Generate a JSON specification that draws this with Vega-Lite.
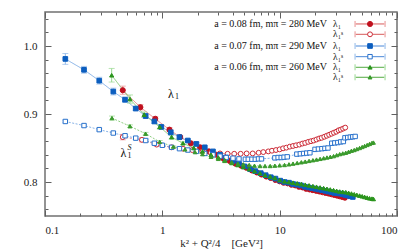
{
"$schema": "https://vega.github.io/schema/vega-lite/v6.json",
"width": 352, "height": 204,
"autosize": {"type": "none"},
"padding": {"left": 45, "top": 12, "right": 18, "bottom": 36},
"config": {
  "view": {"stroke": "#707070", "strokeWidth": 1.5},
  "font": "Liberation Serif",
  "text": {"font": "Liberation Serif"},
  "legend": {"disable": true},
  "axis": {"grid": false, "domain": false, "tickColor": "#606060", "tickWidth": 1, "labelFont": "Liberation Serif", "labelFontSize": 11, "labelColor": "#222", "titleFont": "Liberation Serif", "titleFontSize": 11, "titleFontWeight": "normal", "titleColor": "#222"}
},
"datasets": {
 "pts": [
  {"s":"r1","x":0.46,"y":0.935,"e":0.006},{"s":"r1","x":0.65,"y":0.910,"e":0.004},{"s":"r1","x":0.87,"y":0.893,"e":0.003},{"s":"r1","x":1.15,"y":0.877,"e":0.003},{"s":"r1","x":1.42,"y":0.866,"e":0.002},{"s":"r1","x":1.75,"y":0.857,"e":0.002},{"s":"r1","x":2.1,"y":0.851,"e":0.001},
  {"s":"r1","x":2.5,"y":0.845,"e":0},{"s":"r1","x":2.9,"y":0.840,"e":0},{"s":"r1","x":3.3,"y":0.835,"e":0},{"s":"r1","x":3.75,"y":0.831,"e":0},{"s":"r1","x":4.2,"y":0.827,"e":0},{"s":"r1","x":4.7,"y":0.824,"e":0},{"s":"r1","x":5.2,"y":0.821,"e":0},{"s":"r1","x":5.8,"y":0.817,"e":0},{"s":"r1","x":6.4,"y":0.814,"e":0},{"s":"r1","x":7.0,"y":0.811,"e":0},{"s":"r1","x":7.7,"y":0.808,"e":0},{"s":"r1","x":8.4,"y":0.806,"e":0},{"s":"r1","x":9.2,"y":0.803,"e":0},{"s":"r1","x":10,"y":0.801,"e":0},{"s":"r1","x":10.8,"y":0.799,"e":0},{"s":"r1","x":11.7,"y":0.798,"e":0},{"s":"r1","x":12.6,"y":0.796,"e":0},{"s":"r1","x":13.6,"y":0.795,"e":0},{"s":"r1","x":14.6,"y":0.793,"e":0},{"s":"r1","x":15.7,"y":0.792,"e":0},{"s":"r1","x":16.8,"y":0.790,"e":0},{"s":"r1","x":18,"y":0.789,"e":0},{"s":"r1","x":19.2,"y":0.788,"e":0},{"s":"r1","x":20.5,"y":0.787,"e":0},{"s":"r1","x":21.8,"y":0.786,"e":0},{"s":"r1","x":23.2,"y":0.785,"e":0},{"s":"r1","x":24.6,"y":0.784,"e":0},{"s":"r1","x":26.1,"y":0.783,"e":0},{"s":"r1","x":27.6,"y":0.782,"e":0},{"s":"r1","x":29.2,"y":0.781,"e":0},{"s":"r1","x":30.8,"y":0.780,"e":0},{"s":"r1","x":32.5,"y":0.779,"e":0},{"s":"r1","x":34.2,"y":0.778,"e":0},{"s":"r1","x":36,"y":0.777,"e":0},

  {"s":"rS","x":0.46,"y":0.866,"e":0.004},{"s":"rS","x":0.67,"y":0.862,"e":0.003},{"s":"rS","x":0.895,"y":0.855,"e":0.002},{"s":"rS","x":1.2,"y":0.851,"e":0.002},{"s":"rS","x":1.5,"y":0.849,"e":0.001},{"s":"rS","x":1.8,"y":0.847,"e":0},{"s":"rS","x":2.2,"y":0.845,"e":0},{"s":"rS","x":2.6,"y":0.843,"e":0},{"s":"rS","x":3.1,"y":0.842,"e":0},{"s":"rS","x":3.6,"y":0.8415,"e":0},{"s":"rS","x":4.1,"y":0.8415,"e":0},{"s":"rS","x":4.65,"y":0.8415,"e":0},{"s":"rS","x":5.23,"y":0.842,"e":0},{"s":"rS","x":5.89,"y":0.842,"e":0},{"s":"rS","x":6.62,"y":0.843,"e":0},{"s":"rS","x":7.25,"y":0.844,"e":0},{"s":"rS","x":8.0,"y":0.845,"e":0},{"s":"rS","x":8.6,"y":0.846,"e":0},{"s":"rS","x":9.3,"y":0.847,"e":0},{"s":"rS","x":10,"y":0.848,"e":0},{"s":"rS","x":10.7,"y":0.8495,"e":0},{"s":"rS","x":11.4,"y":0.8505,"e":0},{"s":"rS","x":12.2,"y":0.852,"e":0},{"s":"rS","x":13,"y":0.853,"e":0},{"s":"rS","x":13.8,"y":0.854,"e":0},{"s":"rS","x":14.7,"y":0.855,"e":0},{"s":"rS","x":15.6,"y":0.8565,"e":0},{"s":"rS","x":16.5,"y":0.8575,"e":0},{"s":"rS","x":17.5,"y":0.859,"e":0},{"s":"rS","x":18.5,"y":0.860,"e":0},{"s":"rS","x":19.5,"y":0.861,"e":0},{"s":"rS","x":20.6,"y":0.8625,"e":0},{"s":"rS","x":21.7,"y":0.864,"e":0},{"s":"rS","x":22.8,"y":0.865,"e":0},{"s":"rS","x":24,"y":0.8665,"e":0},{"s":"rS","x":25.2,"y":0.868,"e":0},{"s":"rS","x":26.4,"y":0.8695,"e":0},{"s":"rS","x":27.7,"y":0.871,"e":0},{"s":"rS","x":29,"y":0.8725,"e":0},{"s":"rS","x":30.4,"y":0.874,"e":0},{"s":"rS","x":31.8,"y":0.876,"e":0},{"s":"rS","x":33.2,"y":0.877,"e":0},{"s":"rS","x":34.7,"y":0.8785,"e":0},{"s":"rS","x":36.2,"y":0.880,"e":0},

  {"s":"b1","x":0.149,"y":0.981,"e":0.008},{"s":"b1","x":0.215,"y":0.965,"e":0.005},{"s":"b1","x":0.29,"y":0.949,"e":0.005},{"s":"b1","x":0.382,"y":0.933,"e":0.005},{"s":"b1","x":0.481,"y":0.921,"e":0.004},{"s":"b1","x":0.593,"y":0.908,"e":0.003},{"s":"b1","x":0.721,"y":0.897,"e":0.003},{"s":"b1","x":0.855,"y":0.889,"e":0.003},{"s":"b1","x":0.98,"y":0.881,"e":0.002},{"s":"b1","x":1.18,"y":0.873,"e":0.004},{"s":"b1","x":1.4,"y":0.866,"e":0.002},{"s":"b1","x":1.65,"y":0.861,"e":0.002},{"s":"b1","x":1.95,"y":0.856,"e":0.002},
  {"s":"b1","x":2.3,"y":0.851,"e":0},{"s":"b1","x":2.7,"y":0.845,"e":0},{"s":"b1","x":3.1,"y":0.840,"e":0},{"s":"b1","x":3.5,"y":0.836,"e":0},{"s":"b1","x":4.0,"y":0.831,"e":0},{"s":"b1","x":4.5,"y":0.827,"e":0},{"s":"b1","x":5.0,"y":0.823,"e":0},{"s":"b1","x":5.6,"y":0.819,"e":0},{"s":"b1","x":6.2,"y":0.816,"e":0},{"s":"b1","x":6.9,"y":0.813,"e":0},{"s":"b1","x":7.6,"y":0.810,"e":0},{"s":"b1","x":8.4,"y":0.807,"e":0},{"s":"b1","x":9.2,"y":0.805,"e":0},{"s":"b1","x":10.1,"y":0.802,"e":0},{"s":"b1","x":11,"y":0.800,"e":0},{"s":"b1","x":12,"y":0.799,"e":0},{"s":"b1","x":13,"y":0.797,"e":0},{"s":"b1","x":14.1,"y":0.796,"e":0},{"s":"b1","x":15.2,"y":0.795,"e":0},{"s":"b1","x":16.4,"y":0.793,"e":0},{"s":"b1","x":17.6,"y":0.792,"e":0},{"s":"b1","x":18.9,"y":0.791,"e":0},{"s":"b1","x":20.2,"y":0.790,"e":0},{"s":"b1","x":21.6,"y":0.789,"e":0},{"s":"b1","x":23,"y":0.788,"e":0},{"s":"b1","x":24.5,"y":0.787,"e":0},{"s":"b1","x":26,"y":0.786,"e":0},{"s":"b1","x":27.6,"y":0.785,"e":0},{"s":"b1","x":29.2,"y":0.784,"e":0},{"s":"b1","x":30.9,"y":0.7835,"e":0},{"s":"b1","x":32.6,"y":0.783,"e":0},{"s":"b1","x":34.4,"y":0.782,"e":0},{"s":"b1","x":36.2,"y":0.781,"e":0},{"s":"b1","x":38.1,"y":0.780,"e":0},{"s":"b1","x":40,"y":0.779,"e":0},{"s":"b1","x":42,"y":0.778,"e":0},

  {"s":"bS","x":0.149,"y":0.889,"e":0.002},{"s":"bS","x":0.215,"y":0.883,"e":0.002},{"s":"bS","x":0.29,"y":0.877,"e":0.002},{"s":"bS","x":0.382,"y":0.872,"e":0.002},{"s":"bS","x":0.481,"y":0.868,"e":0.002},{"s":"bS","x":0.593,"y":0.8645,"e":0.002},{"s":"bS","x":0.721,"y":0.861,"e":0.002},{"s":"bS","x":0.855,"y":0.857,"e":0.002},{"s":"bS","x":1.0,"y":0.854,"e":0.001},{"s":"bS","x":1.2,"y":0.851,"e":0.001},{"s":"bS","x":1.4,"y":0.849,"e":0},{"s":"bS","x":1.65,"y":0.847,"e":0},{"s":"bS","x":1.95,"y":0.845,"e":0},{"s":"bS","x":2.3,"y":0.842,"e":0},{"s":"bS","x":2.7,"y":0.840,"e":0},{"s":"bS","x":3.1,"y":0.838,"e":0},{"s":"bS","x":3.5,"y":0.836,"e":0},{"s":"bS","x":4.0,"y":0.835,"e":0},{"s":"bS","x":4.5,"y":0.834,"e":0},
  {"s":"bS","x":5.1,"y":0.8335,"e":0},{"s":"bS","x":5.4,"y":0.8335,"e":0},{"s":"bS","x":5.8,"y":0.8335,"e":0},{"s":"bS","x":6.2,"y":0.8335,"e":0},{"s":"bS","x":6.6,"y":0.834,"e":0},{"s":"bS","x":7.0,"y":0.834,"e":0},
  {"s":"bS","x":9.1,"y":0.8355,"e":0},{"s":"bS","x":9.7,"y":0.836,"e":0},{"s":"bS","x":10.3,"y":0.836,"e":0},{"s":"bS","x":10.9,"y":0.8365,"e":0},{"s":"bS","x":11.6,"y":0.837,"e":0},
  {"s":"bS","x":14.0,"y":0.841,"e":0},{"s":"bS","x":15.0,"y":0.8415,"e":0},{"s":"bS","x":16.0,"y":0.842,"e":0},{"s":"bS","x":17.0,"y":0.8425,"e":0},{"s":"bS","x":18.1,"y":0.843,"e":0},
  {"s":"bS","x":20.0,"y":0.848,"e":0},{"s":"bS","x":21.4,"y":0.8485,"e":0},{"s":"bS","x":22.9,"y":0.849,"e":0},{"s":"bS","x":24.3,"y":0.8495,"e":0},{"s":"bS","x":25.8,"y":0.850,"e":0},
  {"s":"bS","x":27.8,"y":0.857,"e":0},{"s":"bS","x":29.5,"y":0.8575,"e":0},{"s":"bS","x":31.3,"y":0.858,"e":0},{"s":"bS","x":33.1,"y":0.859,"e":0},{"s":"bS","x":34.9,"y":0.8595,"e":0},
  {"s":"bS","x":36,"y":0.865,"e":0},{"s":"bS","x":38,"y":0.8655,"e":0},{"s":"bS","x":40,"y":0.866,"e":0},{"s":"bS","x":42,"y":0.8665,"e":0},{"s":"bS","x":44,"y":0.867,"e":0},

  {"s":"g1","x":0.37,"y":0.957,"e":0.01},{"s":"g1","x":0.53,"y":0.922,"e":0.006},{"s":"g1","x":0.70,"y":0.899,"e":0.004},{"s":"g1","x":0.95,"y":0.881,"e":0.003},{"s":"g1","x":1.2,"y":0.866,"e":0.003},{"s":"g1","x":1.5,"y":0.857,"e":0.002},{"s":"g1","x":1.85,"y":0.850,"e":0.002},
  {"s":"g1","x":2.2,"y":0.845,"e":0},{"s":"g1","x":2.6,"y":0.840,"e":0},{"s":"g1","x":3.0,"y":0.836,"e":0},{"s":"g1","x":3.4,"y":0.832,"e":0},{"s":"g1","x":3.9,"y":0.828,"e":0},{"s":"g1","x":4.4,"y":0.825,"e":0},{"s":"g1","x":4.9,"y":0.822,"e":0},{"s":"g1","x":5.5,"y":0.819,"e":0},{"s":"g1","x":6.1,"y":0.816,"e":0},{"s":"g1","x":6.8,"y":0.813,"e":0},{"s":"g1","x":7.5,"y":0.810,"e":0},{"s":"g1","x":8.3,"y":0.808,"e":0},{"s":"g1","x":9.1,"y":0.806,"e":0},{"s":"g1","x":10,"y":0.803,"e":0},{"s":"g1","x":11,"y":0.801,"e":0},{"s":"g1","x":12,"y":0.800,"e":0},{"s":"g1","x":13,"y":0.799,"e":0},{"s":"g1","x":14.1,"y":0.798,"e":0},{"s":"g1","x":15.3,"y":0.797,"e":0},{"s":"g1","x":16.5,"y":0.796,"e":0},{"s":"g1","x":17.8,"y":0.795,"e":0},{"s":"g1","x":19.2,"y":0.794,"e":0},{"s":"g1","x":20.6,"y":0.793,"e":0},{"s":"g1","x":22.1,"y":0.792,"e":0},{"s":"g1","x":23.7,"y":0.791,"e":0},{"s":"g1","x":25.3,"y":0.790,"e":0},{"s":"g1","x":27,"y":0.789,"e":0},{"s":"g1","x":28.8,"y":0.788,"e":0},{"s":"g1","x":30.6,"y":0.787,"e":0},{"s":"g1","x":32.5,"y":0.786,"e":0},{"s":"g1","x":34.5,"y":0.7855,"e":0},{"s":"g1","x":36.6,"y":0.785,"e":0},{"s":"g1","x":38.7,"y":0.784,"e":0},{"s":"g1","x":40.9,"y":0.783,"e":0},{"s":"g1","x":43.2,"y":0.782,"e":0},{"s":"g1","x":45.5,"y":0.781,"e":0},{"s":"g1","x":48,"y":0.780,"e":0},{"s":"g1","x":50.5,"y":0.779,"e":0},{"s":"g1","x":53,"y":0.778,"e":0},{"s":"g1","x":55.7,"y":0.777,"e":0},{"s":"g1","x":58.4,"y":0.776,"e":0},{"s":"g1","x":61.2,"y":0.7755,"e":0},{"s":"g1","x":63,"y":0.775,"e":0},

  {"s":"gS","x":0.372,"y":0.894,"e":0.003},{"s":"gS","x":0.53,"y":0.882,"e":0.002},{"s":"gS","x":0.72,"y":0.871,"e":0.002},{"s":"gS","x":0.95,"y":0.859,"e":0.002},{"s":"gS","x":1.24,"y":0.852,"e":0.001},{"s":"gS","x":1.56,"y":0.848,"e":0.001},{"s":"gS","x":1.9,"y":0.844,"e":0},{"s":"gS","x":2.2,"y":0.841,"e":0},{"s":"gS","x":2.6,"y":0.837,"e":0},{"s":"gS","x":3.0,"y":0.834,"e":0},{"s":"gS","x":3.4,"y":0.831,"e":0},{"s":"gS","x":3.9,"y":0.829,"e":0},{"s":"gS","x":4.4,"y":0.827,"e":0},{"s":"gS","x":4.9,"y":0.826,"e":0},{"s":"gS","x":5.5,"y":0.825,"e":0},{"s":"gS","x":6.1,"y":0.824,"e":0},{"s":"gS","x":6.8,"y":0.8235,"e":0},{"s":"gS","x":7.5,"y":0.8235,"e":0},{"s":"gS","x":8.3,"y":0.8235,"e":0},{"s":"gS","x":9.1,"y":0.824,"e":0},{"s":"gS","x":10,"y":0.8245,"e":0},{"s":"gS","x":11,"y":0.825,"e":0},{"s":"gS","x":12,"y":0.826,"e":0},{"s":"gS","x":13,"y":0.827,"e":0},{"s":"gS","x":14.1,"y":0.828,"e":0},{"s":"gS","x":15.3,"y":0.829,"e":0},{"s":"gS","x":16.5,"y":0.830,"e":0},{"s":"gS","x":17.8,"y":0.831,"e":0},{"s":"gS","x":19.2,"y":0.832,"e":0},{"s":"gS","x":20.6,"y":0.833,"e":0},{"s":"gS","x":22.1,"y":0.834,"e":0},{"s":"gS","x":23.7,"y":0.835,"e":0},{"s":"gS","x":25.3,"y":0.836,"e":0},{"s":"gS","x":27,"y":0.837,"e":0},{"s":"gS","x":28.8,"y":0.838,"e":0},{"s":"gS","x":30.6,"y":0.8395,"e":0},{"s":"gS","x":32.5,"y":0.841,"e":0},{"s":"gS","x":34.5,"y":0.842,"e":0},{"s":"gS","x":36.6,"y":0.843,"e":0},{"s":"gS","x":38.7,"y":0.8445,"e":0},{"s":"gS","x":40.9,"y":0.846,"e":0},{"s":"gS","x":43.2,"y":0.847,"e":0},{"s":"gS","x":45.5,"y":0.8485,"e":0},{"s":"gS","x":48,"y":0.850,"e":0},{"s":"gS","x":50.5,"y":0.8515,"e":0},{"s":"gS","x":53,"y":0.853,"e":0},{"s":"gS","x":55.7,"y":0.8545,"e":0},{"s":"gS","x":58.4,"y":0.856,"e":0},{"s":"gS","x":61.2,"y":0.8575,"e":0},{"s":"gS","x":63,"y":0.858,"e":0}
 ],
 "leg": [
  {"s":"r1","ly":1.0324,"lab":"a = 0.08 fm, mπ = 280 MeV","sym":"λ₁"},
  {"s":"rS","ly":1.0172,"lab":"","sym":"λ₁ˢ"},
  {"s":"b1","ly":1.0,"lab":"a = 0.07 fm, mπ = 290 MeV","sym":"λ₁"},
  {"s":"bS","ly":0.9843,"lab":"","sym":"λ₁ˢ"},
  {"s":"g1","ly":0.9687,"lab":"a = 0.06 fm, mπ = 260 MeV","sym":"λ₁"},
  {"s":"gS","ly":0.954,"lab":"","sym":"λ₁ˢ"}
 ],
 "ann": [
  {"ax":1.118,"ay":0.929,"sup":""},
  {"ax":0.441,"ay":0.843,"sup":"S"}
 ]
},
"resolve": {"scale": {"color":"independent","stroke":"independent","fill":"independent","shape":"independent","size":"independent","strokeDash":"independent"}, "axis": {"x":"independent","y":"independent"}},
"layer": [
 {
  "data": {"name": "pts"},
  "mark": {"type": "line", "strokeWidth": 0.8},
  "encoding": {
   "x": {"field": "x", "type": "quantitative", "scale": {"type": "log", "domain": [0.1, 100]},
     "axis": {"orient": "bottom", "values": [0.1,0.2,0.3,0.4,0.5,0.6,0.7,0.8,0.9,1,2,3,4,5,6,7,8,9,10,20,30,40,50,60,70,80,90,100], "format": "~g",
       "labelExpr": "(datum.value==0.1||datum.value==1||datum.value==10||datum.value==100) ? datum.label : ''",
       "tickSize": {"condition": {"test": "datum.value==0.1||datum.value==1||datum.value==10||datum.value==100", "value": -6}, "value": -3},
       "labelPadding": 14, "title": "k² + Q²/4\u00a0\u00a0\u00a0\u00a0[GeV²]", "titlePadding": 2}},
   "y": {"field": "y", "type": "quantitative", "scale": {"domain": [0.75, 1.05], "zero": false, "nice": false},
     "axis": {"orient": "left", "values": [0.76,0.78,0.8,0.82,0.84,0.86,0.88,0.9,0.92,0.94,0.96,0.98,1,1.02,1.04], "format": ".1f",
       "labelExpr": "(datum.value==0.8||datum.value==0.9||datum.value==1) ? datum.label : ''",
       "tickSize": {"condition": {"test": "datum.value==0.8||datum.value==0.9||datum.value==1", "value": -6}, "value": -3},
       "labelPadding": 14, "title": null}},
   "detail": {"field": "s", "type": "nominal"},
   "stroke": {"field": "s", "type": "nominal", "scale": {"domain": ["r1","rS","b1","bS","g1","gS"], "range": ["#e07070","#e07070","#6a9fe0","#6a9fe0","#70c060","#70c060"]}, "legend": null},
   "strokeDash": {"field": "s", "type": "nominal", "scale": {"domain": ["r1","rS","b1","bS","g1","gS"], "range": [[1,0],[2,1.5],[1,0],[2,1.5],[1,0],[2,1.5]]}, "legend": null}
  }
 },
 {
  "data": {"name": "pts"},
  "transform": [{"filter": "datum.e > 0"}],
  "mark": {"type": "errorbar", "ticks": {"size": 6}, "thickness": 1},
  "encoding": {
   "x": {"field": "x", "type": "quantitative", "scale": {"type": "log", "domain": [0.1, 100]}, "axis": null},
   "y": {"field": "y", "type": "quantitative", "scale": {"domain": [0.75, 1.05], "zero": false, "nice": false}, "axis": null},
   "yError": {"field": "e"},
   "color": {"field": "s", "type": "nominal", "scale": {"domain": ["r1","rS","b1","bS","g1","gS"], "range": ["#e89090","#e89090","#90b8e8","#90b8e8","#98d890","#98d890"]}, "legend": null}
  }
 },
 {
  "data": {"name": "pts"},
  "mark": {"type": "point", "strokeWidth": 1, "opacity": 1},
  "encoding": {
   "x": {"field": "x", "type": "quantitative", "scale": {"type": "log", "domain": [0.1, 100]},
     "axis": {"orient": "top", "values": [0.1,0.2,0.3,0.4,0.5,0.6,0.7,0.8,0.9,1,2,3,4,5,6,7,8,9,10,20,30,40,50,60,70,80,90,100], "labels": false, "title": null,
       "tickSize": {"condition": {"test": "datum.value==0.1||datum.value==1||datum.value==10||datum.value==100", "value": -6}, "value": -3}}},
   "y": {"field": "y", "type": "quantitative", "scale": {"domain": [0.75, 1.05], "zero": false, "nice": false},
     "axis": {"orient": "right", "values": [0.76,0.78,0.8,0.82,0.84,0.86,0.88,0.9,0.92,0.94,0.96,0.98,1,1.02,1.04], "labels": false, "title": null,
       "tickSize": {"condition": {"test": "datum.value==0.8||datum.value==0.9||datum.value==1", "value": -6}, "value": -3}}},
   "shape": {"field": "s", "type": "nominal", "scale": {"domain": ["r1","rS","b1","bS","g1","gS"], "range": ["circle","circle","square","square","triangle-up","triangle-up"]}, "legend": null},
   "stroke": {"field": "s", "type": "nominal", "scale": {"domain": ["r1","rS","b1","bS","g1","gS"], "range": ["#c0101e","#cc2a36","#0c5ebf","#2a72cc","#2a941c","#3a9a2c"]}, "legend": null},
   "fill": {"field": "s", "type": "nominal", "scale": {"domain": ["r1","rS","b1","bS","g1","gS"], "range": ["#c0101e","#ffffff","#0c5ebf","#ffffff","#2a941c","#3a9a2c"]}, "legend": null},
   "size": {"field": "s", "type": "nominal", "scale": {"domain": ["r1","rS","b1","bS","g1","gS"], "range": [26,15,32,16,26,9]}, "legend": null}
  }
 },
 {
  "data": {"name": "leg"},
  "mark": {"type": "rule", "strokeWidth": 1},
  "encoding": {
   "x": {"datum": 44.5, "type": "quantitative", "scale": {"type": "log", "domain": [0.1, 100]}, "axis": null},
   "x2": {"datum": 78},
   "y": {"field": "ly", "type": "quantitative", "scale": {"domain": [0.75, 1.05], "zero": false, "nice": false}, "axis": null},
   "color": {"field": "s", "type": "nominal", "scale": {"domain": ["r1","rS","b1","bS","g1","gS"], "range": ["#d85a5a","#d85a5a","#4a88d8","#4a88d8","#52aa40","#52aa40"]}, "legend": null}
  }
 },
 {
  "data": {"name": "leg"},
  "mark": {"type": "point", "shape": "M0,-1L0,1", "strokeWidth": 1, "filled": false, "size": 36, "opacity": 1},
  "encoding": {
   "x": {"datum": 43.9, "type": "quantitative", "scale": {"type": "log", "domain": [0.1, 100]}, "axis": null},
   "y": {"field": "ly", "type": "quantitative", "scale": {"domain": [0.75, 1.05], "zero": false, "nice": false}, "axis": null},
   "color": {"field": "s", "type": "nominal", "scale": {"domain": ["r1","rS","b1","bS","g1","gS"], "range": ["#e89090","#e89090","#90b8e8","#90b8e8","#98d890","#98d890"]}, "legend": null}
  }
 },
 {
  "data": {"name": "leg"},
  "mark": {"type": "point", "shape": "M0,-1L0,1", "strokeWidth": 1, "filled": false, "size": 36, "opacity": 1},
  "encoding": {
   "x": {"datum": 79.1, "type": "quantitative", "scale": {"type": "log", "domain": [0.1, 100]}, "axis": null},
   "y": {"field": "ly", "type": "quantitative", "scale": {"domain": [0.75, 1.05], "zero": false, "nice": false}, "axis": null},
   "color": {"field": "s", "type": "nominal", "scale": {"domain": ["r1","rS","b1","bS","g1","gS"], "range": ["#e89090","#e89090","#90b8e8","#90b8e8","#98d890","#98d890"]}, "legend": null}
  }
 },
 {
  "data": {"name": "leg"},
  "mark": {"type": "point", "strokeWidth": 1, "opacity": 1},
  "encoding": {
   "x": {"datum": 58.9, "type": "quantitative", "scale": {"type": "log", "domain": [0.1, 100]}, "axis": null},
   "y": {"field": "ly", "type": "quantitative", "scale": {"domain": [0.75, 1.05], "zero": false, "nice": false}, "axis": null},
   "shape": {"field": "s", "type": "nominal", "scale": {"domain": ["r1","rS","b1","bS","g1","gS"], "range": ["circle","circle","square","square","triangle-up","triangle-up"]}, "legend": null},
   "stroke": {"field": "s", "type": "nominal", "scale": {"domain": ["r1","rS","b1","bS","g1","gS"], "range": ["#c0101e","#cc2a36","#0c5ebf","#2a72cc","#2a941c","#3a9a2c"]}, "legend": null},
   "fill": {"field": "s", "type": "nominal", "scale": {"domain": ["r1","rS","b1","bS","g1","gS"], "range": ["#c0101e","#ffffff","#0c5ebf","#ffffff","#2a941c","#3a9a2c"]}, "legend": null},
   "size": {"field": "s", "type": "nominal", "scale": {"domain": ["r1","rS","b1","bS","g1","gS"], "range": [26,15,32,16,26,9]}, "legend": null}
  }
 },
 {
  "data": {"name": "leg"},
  "transform": [{"filter": "datum.lab != ''"}],
  "mark": {"type": "text", "align": "right", "baseline": "middle", "fontSize": 10, "color": "#111"},
  "encoding": {
   "x": {"datum": 25.3, "type": "quantitative", "scale": {"type": "log", "domain": [0.1, 100]}, "axis": null},
   "y": {"field": "ly", "type": "quantitative", "scale": {"domain": [0.75, 1.05], "zero": false, "nice": false}, "axis": null},
   "text": {"field": "lab"}
  }
 },
 {
  "data": {"name": "leg"},
  "mark": {"type": "text", "align": "left", "baseline": "middle", "fontSize": 9.5, "color": "#111"},
  "encoding": {
   "x": {"datum": 28.5, "type": "quantitative", "scale": {"type": "log", "domain": [0.1, 100]}, "axis": null},
   "y": {"field": "ly", "type": "quantitative", "scale": {"domain": [0.75, 1.05], "zero": false, "nice": false}, "axis": null},
   "text": {"field": "sym"}
  }
 },
 {
  "data": {"name": "ann"},
  "mark": {"type": "text", "align": "left", "baseline": "middle", "fontSize": 12, "color": "#111"},
  "encoding": {
   "x": {"field": "ax", "type": "quantitative", "scale": {"type": "log", "domain": [0.1, 100]}, "axis": null},
   "y": {"field": "ay", "type": "quantitative", "scale": {"domain": [0.75, 1.05], "zero": false, "nice": false}, "axis": null},
   "text": {"value": "λ"}
  }
 },
 {
  "data": {"name": "ann"},
  "mark": {"type": "text", "align": "left", "baseline": "middle", "fontSize": 8, "dx": 7, "dy": 3, "color": "#111"},
  "encoding": {
   "x": {"field": "ax", "type": "quantitative", "scale": {"type": "log", "domain": [0.1, 100]}, "axis": null},
   "y": {"field": "ay", "type": "quantitative", "scale": {"domain": [0.75, 1.05], "zero": false, "nice": false}, "axis": null},
   "text": {"value": "1"}
  }
 },
 {
  "data": {"name": "ann"},
  "transform": [{"filter": "datum.sup != ''"}],
  "mark": {"type": "text", "align": "left", "baseline": "middle", "fontSize": 8, "dx": 7, "dy": -4.5, "fontStyle": "italic", "color": "#111"},
  "encoding": {
   "x": {"field": "ax", "type": "quantitative", "scale": {"type": "log", "domain": [0.1, 100]}, "axis": null},
   "y": {"field": "ay", "type": "quantitative", "scale": {"domain": [0.75, 1.05], "zero": false, "nice": false}, "axis": null},
   "text": {"field": "sup"}
  }
 }
]
}
